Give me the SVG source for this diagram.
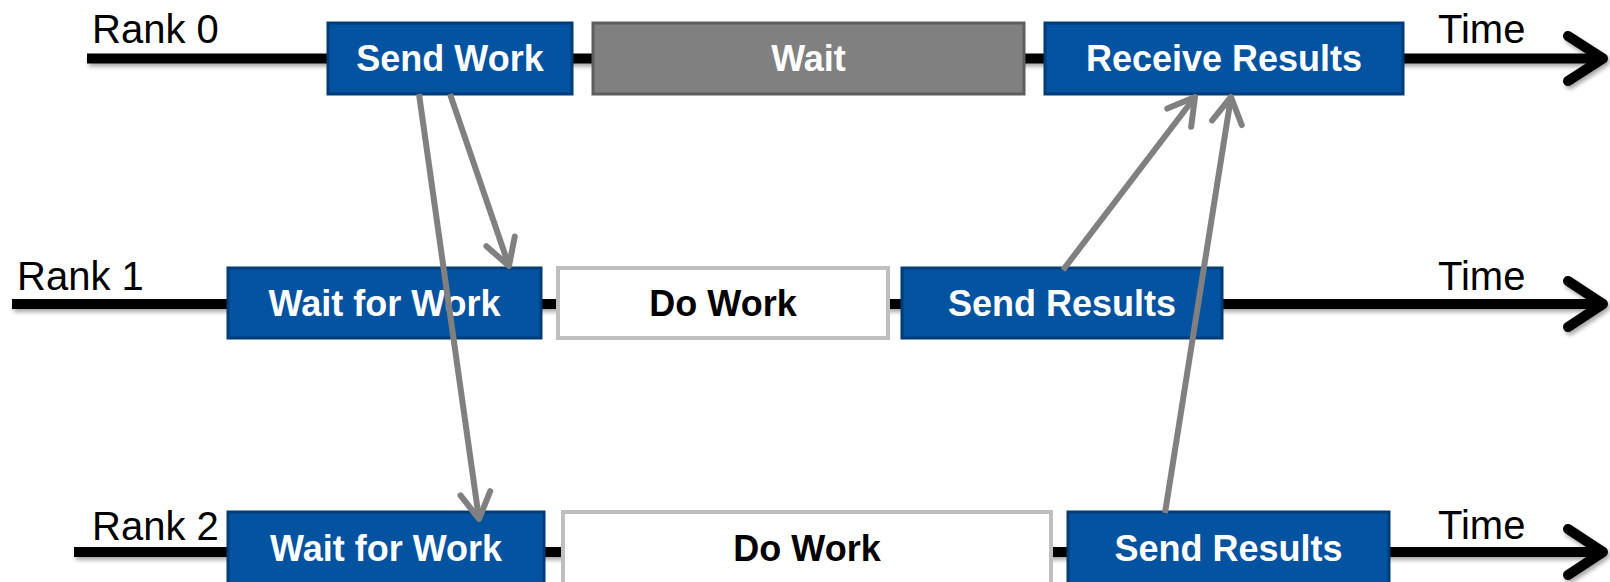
<svg xmlns="http://www.w3.org/2000/svg" width="1610" height="582" viewBox="0 0 1610 582">
<defs>
<filter id="sh" x="-5%" y="-50%" width="110%" height="250%">
<feDropShadow dx="2" dy="3" stdDeviation="2" flood-color="#000" flood-opacity="0.35"/>
</filter>
<marker id="ga" markerUnits="userSpaceOnUse" orient="auto" refX="0" refY="0" viewBox="-32 -20 40 40" markerWidth="40" markerHeight="40" overflow="visible">
<path d="M-26,-15 L0,0 L-26,15" fill="none" stroke="#808080" stroke-width="6" stroke-linecap="round" stroke-linejoin="round"/>
</marker>
</defs>
<style>
.tl{stroke:#000;stroke-width:10;fill:none;stroke-linecap:butt;stroke-linejoin:round}
.ch{stroke:#000;stroke-width:10;fill:none;stroke-linecap:round;stroke-linejoin:round}
.lbl{font-family:"Liberation Sans",Arial,sans-serif;font-size:40px;fill:#000}
.blue{fill:#0453A1;stroke:#003C78;stroke-width:3}
.grey{fill:#808080;stroke:#5E5E5E;stroke-width:3}
.white{fill:#fff;stroke:#BFBFBF;stroke-width:4}
.bt{font-family:"Liberation Sans",Arial,sans-serif;font-size:36px;font-weight:bold;fill:#fff;text-anchor:middle}
.dt{font-family:"Liberation Sans",Arial,sans-serif;font-size:36px;font-weight:bold;fill:#000;text-anchor:middle}
.conn{stroke:#808080;stroke-width:6;fill:none;marker-end:url(#ga)}
</style>
<g id="timelines" filter="url(#sh)">
<path class="tl" d="M87,58.5 H1600"/>
<path class="ch" d="M1568,36 L1603,58.5 L1568,81"/>
<path class="tl" d="M12,304 H1600"/>
<path class="ch" d="M1568,281 L1603,304 L1568,327"/>
<path class="tl" d="M74,552 H1600"/>
<path class="ch" d="M1568,529 L1603,552 L1568,575"/>
</g>
<g id="labels">
<text class="lbl" x="92" y="43">Rank 0</text>
<text class="lbl" x="1438" y="43">Time</text>
<text class="lbl" x="17" y="290">Rank 1</text>
<text class="lbl" x="1438" y="290">Time</text>
<text class="lbl" x="92" y="540">Rank 2</text>
<text class="lbl" x="1438" y="539">Time</text>
</g>
<g id="r0-send-work"><rect class="blue" x="328" y="23" width="244" height="71"/><text class="bt" x="450" y="71">Send Work</text></g>
<g id="r0-wait"><rect class="grey" x="593" y="23" width="431" height="71"/><text class="bt" x="808.5" y="71">Wait</text></g>
<g id="r0-receive-results"><rect class="blue" x="1045" y="23" width="358" height="71"/><text class="bt" x="1224" y="71">Receive Results</text></g>
<g id="r1-wait-for-work"><rect class="blue" x="228" y="268" width="313" height="70"/><text class="bt" x="384.5" y="316">Wait for Work</text></g>
<g id="r1-do-work"><rect class="white" x="558" y="268" width="330" height="70"/><text class="dt" x="723" y="316">Do Work</text></g>
<g id="r1-send-results"><rect class="blue" x="902" y="268" width="320" height="70"/><text class="bt" x="1062" y="316">Send Results</text></g>
<g id="r2-wait-for-work"><rect class="blue" x="228" y="512" width="316" height="74"/><text class="bt" x="386" y="561">Wait for Work</text></g>
<g id="r2-do-work"><rect class="white" x="563" y="512" width="488" height="74"/><text class="dt" x="807" y="561">Do Work</text></g>
<g id="r2-send-results"><rect class="blue" x="1068" y="512" width="321" height="74"/><text class="bt" x="1228.5" y="561">Send Results</text></g>
<g id="connectors">
<path class="conn" d="M419,94 L479,519"/>
<path class="conn" d="M450,94 L509,266"/>
<path class="conn" d="M1063,270 L1195,97"/>
<path class="conn" d="M1165,513 L1231,97"/>
</g>
</svg>
